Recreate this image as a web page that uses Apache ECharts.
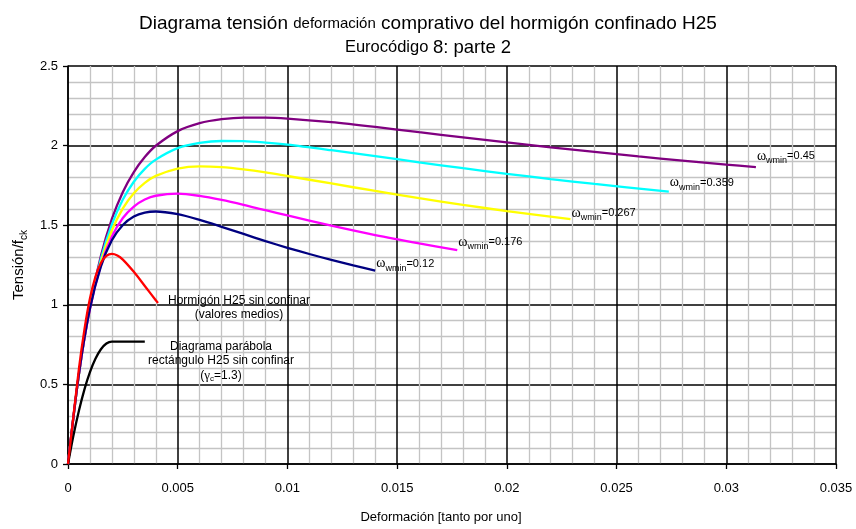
<!DOCTYPE html>
<html>
<head>
<meta charset="utf-8">
<script src="https://cdn.jsdelivr.net/npm/echarts@6/dist/echarts.min.js"></script>
<style>
  html, body { margin: 0; padding: 0; background: #fff; }
  #chart { width: 856px; height: 529px; }
</style>
</head>
<body>
<div id="chart"></div>
<script>
// Stress (normalised by fck) versus strain, H25 concrete, EC8-2 confinement model.
// Each curve is a list of [strain, stress / fck] points.

const xTicks = [0, 0.005, 0.01, 0.015, 0.02, 0.025, 0.03, 0.035];
const yTicks = [0, 0.5, 1, 1.5, 2, 2.5];

// Unconfined H25, mean values
const unconfinedMean = [
  [0, 0], [0.0005, 0.600], [0.00075, 0.846], [0.001, 1.039], [0.00125, 1.176],
  [0.0015, 1.263], [0.00175, 1.307], [0.002, 1.320], [0.00225, 1.310],
  [0.0025, 1.284], [0.003, 1.207], [0.0035, 1.118], [0.004, 1.029], [0.0041, 1.011]
];

// Parabola-rectangle design diagram, unconfined, gamma_c = 1.3
const parabolaRect = [
  [0, 0], [0.00025, 0.180], [0.0005, 0.336], [0.00075, 0.469], [0.001, 0.577],
  [0.00125, 0.661], [0.0015, 0.721], [0.00175, 0.757], [0.002, 0.769], [0.0035, 0.769]
];

// Confined curves, one per mechanical reinforcement ratio
const omegaLabels = ['0.12', '0.176', '0.267', '0.359', '0.45'];

const omega012 = [
  [0, 0], [0.0005, 0.570], [0.001, 0.977], [0.0015, 1.242], [0.002, 1.405],
  [0.0025, 1.501], [0.003, 1.554], [0.0035, 1.579], [0.004, 1.586], [0.005, 1.569],
  [0.006, 1.533], [0.007, 1.490], [0.008, 1.445], [0.009, 1.400], [0.010, 1.358],
  [0.011, 1.319], [0.012, 1.282], [0.013, 1.248], [0.014, 1.215]
];

const omega0176 = [
  [0, 0], [0.0005, 0.566], [0.001, 0.974], [0.0015, 1.249], [0.002, 1.429],
  [0.0025, 1.545], [0.003, 1.617], [0.0035, 1.661], [0.004, 1.685], [0.005, 1.698],
  [0.006, 1.684], [0.007, 1.659], [0.008, 1.628], [0.009, 1.594], [0.010, 1.561],
  [0.012, 1.497], [0.014, 1.438], [0.016, 1.386], [0.01774, 1.344]
];

const omega0267 = [
  [0, 0], [0.0005, 0.565], [0.001, 0.978], [0.0015, 1.268], [0.002, 1.468],
  [0.0025, 1.606], [0.003, 1.701], [0.0035, 1.766], [0.004, 1.810], [0.005, 1.856],
  [0.006, 1.870], [0.007, 1.865], [0.008, 1.851], [0.009, 1.832], [0.010, 1.809],
  [0.012, 1.762], [0.014, 1.715], [0.016, 1.670], [0.018, 1.628], [0.020, 1.589],
  [0.0229, 1.538]
];

const omega0359 = [
  [0, 0], [0.0005, 0.565], [0.001, 0.986], [0.0015, 1.289], [0.002, 1.505],
  [0.0025, 1.661], [0.003, 1.773], [0.0035, 1.854], [0.004, 1.912], [0.005, 1.984],
  [0.006, 2.017], [0.007, 2.029], [0.008, 2.028], [0.009, 2.019], [0.010, 2.006],
  [0.012, 1.971], [0.014, 1.934], [0.016, 1.895], [0.018, 1.858], [0.020, 1.823],
  [0.022, 1.790], [0.024, 1.759], [0.02738, 1.711]
];

const omega045 = [
  [0, 0], [0.0005, 0.566], [0.001, 0.994], [0.0015, 1.308], [0.002, 1.539],
  [0.0025, 1.709], [0.003, 1.834], [0.0035, 1.928], [0.004, 1.999], [0.005, 2.091],
  [0.006, 2.141], [0.007, 2.166], [0.008, 2.176], [0.009, 2.176], [0.010, 2.170],
  [0.012, 2.147], [0.014, 2.117], [0.016, 2.084], [0.018, 2.052], [0.020, 2.020],
  [0.022, 1.989], [0.024, 1.960], [0.026, 1.932], [0.028, 1.906], [0.030, 1.881],
  [0.03135, 1.865]
];

const FONT = "'Liberation Sans', Arial, sans-serif";
const SERIF = "'Liberation Serif', 'Times New Roman', serif";

const omegaRich = {
  w: { fontFamily: SERIF, fontSize: 14, color: '#000', lineHeight: 20, verticalAlign: 'middle' },
  s: { fontFamily: FONT, fontSize: 9, color: '#000', lineHeight: 20, verticalAlign: 'bottom', padding: [0, 0, 1, 0] },
  v: { fontFamily: FONT, fontSize: 11, color: '#000', lineHeight: 20, verticalAlign: 'middle' }
};

function confinedSeries(data, color, label, dy) {
  return {
    type: 'line',
    data: data,
    smooth: 0.3,
    symbol: 'none',
    lineStyle: { color: color, width: 2.3 },
    endLabel: {
      show: true,
      distance: 0,
      offset: [1, dy],
      formatter: '{w|\u03c9}{s|wmin}{v|=' + label + '}',
      rich: omegaRich
    },
    z: 3
  };
}

const chart = echarts.init(document.getElementById('chart'), null, { renderer: 'canvas' });

chart.setOption({
  animation: false,
  backgroundColor: '#ffffff',
  title: [
    {
      text: '{a|Diagrama tensión }{b|deformación}{a| comprativo del hormigón confinado H25}',
      left: 'center',
      top: 9,
      textStyle: {
        rich: {
          a: { fontFamily: FONT, fontSize: 19, fontWeight: 'normal', color: '#000' },
          b: { fontFamily: FONT, fontSize: 15, fontWeight: 'normal', color: '#000' }
        }
      }
    },
    {
      text: '{c|Eurocódigo }{d|8: parte 2}',
      left: 'center',
      top: 33,
      textStyle: {
        rich: {
          c: { fontFamily: FONT, fontSize: 16.5, fontWeight: 'normal', color: '#000' },
          d: { fontFamily: FONT, fontSize: 18.5, fontWeight: 'normal', color: '#000' }
        }
      }
    }
  ],
  grid: { left: 68, right: 20, top: 66, bottom: 59, containLabel: false },
  xAxis: {
    type: 'value',
    min: xTicks[0],
    max: xTicks[xTicks.length - 1],
    interval: xTicks[1] - xTicks[0],
    name: 'Deformación [tanto por uno]',
    nameLocation: 'middle',
    nameGap: 47,
    nameTextStyle: { fontFamily: FONT, fontSize: 13, color: '#000', padding: [0, 22, 0, 0] },
    axisLine: { show: true, lineStyle: { color: '#000', width: 1.5 } },
    axisTick: { show: true, length: 5, lineStyle: { color: '#000', width: 1.3 } },
    axisLabel: { margin: 18, fontFamily: FONT, fontSize: 13, color: '#000' },
    splitLine: { show: true, lineStyle: { color: '#000', width: 1.5 } },
    minorTick: { show: false, splitNumber: 5 },
    minorSplitLine: { show: true, lineStyle: { color: '#c4c4c4', width: 1.3 } }
  },
  yAxis: {
    type: 'value',
    min: yTicks[0],
    max: yTicks[yTicks.length - 1],
    interval: yTicks[1] - yTicks[0],
    name: '{t|Tensión/f}{k|ck}',
    nameLocation: 'middle',
    nameGap: 38,
    nameRotate: 90,
    nameTextStyle: {
      rich: {
        t: { fontFamily: FONT, fontSize: 15, color: '#000', lineHeight: 20, verticalAlign: 'middle' },
        k: { fontFamily: FONT, fontSize: 10, color: '#000', lineHeight: 20, verticalAlign: 'bottom' }
      }
    },
    axisLine: { show: true, lineStyle: { color: '#000', width: 1.5 } },
    axisTick: { show: true, length: 5, lineStyle: { color: '#000', width: 1.3 } },
    axisLabel: { margin: 10, fontFamily: FONT, fontSize: 13, color: '#000' },
    splitLine: { show: true, lineStyle: { color: '#000', width: 1.5 } },
    minorTick: { show: false, splitNumber: 5 },
    minorSplitLine: { show: true, lineStyle: { color: '#c4c4c4', width: 1.3 } }
  },
  series: [
    confinedSeries(omega045, '#800080', omegaLabels[4], -11),
    confinedSeries(omega0359, '#00ffff', omegaLabels[3], -9),
    confinedSeries(omega0267, '#ffff00', omegaLabels[2], -6),
    confinedSeries(omega0176, '#ff00ff', omegaLabels[1], -8),
    confinedSeries(omega012, '#000080', omegaLabels[0], -7),
    {
      type: 'line',
      data: parabolaRect,
      smooth: 0.3,
      symbol: 'none',
      lineStyle: { color: '#000000', width: 2.3 },
      z: 4
    },
    {
      type: 'line',
      data: unconfinedMean,
      smooth: 0.3,
      symbol: 'none',
      lineStyle: { color: '#ff0000', width: 2.3 },
      z: 5
    }
  ],
  graphic: [
    {
      type: 'text', x: 239, y: 308, z: 10,
      style: {
        text: 'Hormigón H25 sin confinar\n(valores medios)',
        font: '12px ' + FONT, fill: '#000', align: 'center', verticalAlign: 'middle', lineHeight: 14
      }
    },
    {
      type: 'text', x: 221, y: 361, z: 10,
      style: {
        text: '{n|Diagrama parábola}\n{n|rectángulo H25 sin confinar}\n{n|(}{g|\u03b3}{s|c}{n|=1.3)}',
        align: 'center', verticalAlign: 'middle',
        rich: {
          n: { fontFamily: FONT, fontSize: 12, fill: '#000', lineHeight: 14.5, verticalAlign: 'middle' },
          g: { fontFamily: SERIF, fontSize: 13, fill: '#000', lineHeight: 14.5, verticalAlign: 'middle' },
          s: { fontFamily: FONT, fontSize: 8, fill: '#000', lineHeight: 14.5, verticalAlign: 'bottom' }
        }
      }
    }
  ]
});
</script>
</body>
</html>
